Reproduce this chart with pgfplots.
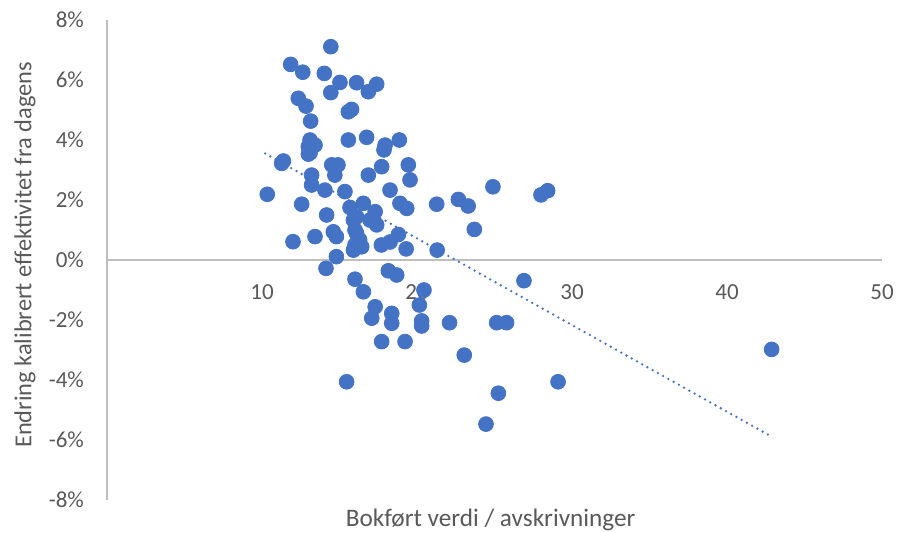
\documentclass[border=0pt]{standalone}
\usepackage{pgfplots}
\pgfplotsset{compat=1.18}
\usepackage{fontspec}
\setmainfont{Carlito}
\definecolor{dotblue}{HTML}{4472C4}
\definecolor{txtgray}{HTML}{595959}
\definecolor{axgray}{HTML}{BFBFBF}
\begin{document}
\begin{tikzpicture}
\path[use as bounding box] (-53.5pt,-16.5pt) rectangle (396.5pt,250pt);
\begin{axis}[
  scale only axis,
  width=387.5pt, height=240pt,
  xmin=0, xmax=50, ymin=-8, ymax=8,
  axis x line=middle, axis y line=left,
  axis line style={axgray, line width=0.8pt, -},
  xtick={10,20,30,40,50},
  ytick={-8,-6,-4,-2,0,2,4,6,8},
  major tick length=0pt,
  tick style={draw=none},
  /pgf/number format/assume math mode=true,
  yticklabel={\pgfmathprintnumber{\tick}\%},
  ticklabel style={font=\fontsize{11.5}{13}\selectfont, text=txtgray},
  xticklabel style={yshift=-9pt},
  yticklabel style={xshift=-8pt},
  clip=false,
]
\addplot[only marks, mark=*, mark size=3.7pt, mark options={draw=dotblue, fill=dotblue}] coordinates {
(14.44,7.11) (11.85,6.52) (12.63,6.26) (14.02,6.22) (15.03,5.92) (16.10,5.91)
(17.40,5.86) (16.86,5.61) (14.44,5.58) (12.34,5.39) (12.84,5.13) (15.78,5.02)
(15.57,4.94) (13.14,4.63) (15.57,4.00) (16.75,4.09) (13.10,4.00) (13.42,3.83)
(17.94,3.83) (18.86,4.00) (17.87,3.67) (12.99,3.78) (13.10,3.57) (11.38,3.30)
(11.27,3.22) (12.99,3.53) (13.20,2.83) (14.50,3.17) (14.90,3.17) (14.70,2.83)
(13.20,2.50) (14.06,2.33) (15.35,2.28) (16.86,2.83) (17.72,3.11) (19.44,3.17)
(19.55,2.67) (10.34,2.19) (12.56,1.86) (14.17,1.50) (18.26,2.33) (18.90,1.89)
(19.34,1.72) (21.27,1.86) (22.67,2.02) (23.30,1.80) (24.90,2.44) (28.00,2.17)
(28.43,2.31) (23.70,1.02) (21.30,0.33) (19.30,0.37)
(15.68,1.75) (16.54,1.89) (16.10,1.44) (17.30,1.61) (17.40,1.17) (16.00,1.00)
(16.20,0.72) (15.90,0.33) (16.43,0.44) (15.90,1.33) (16.97,1.33) (16.10,0.89)
(16.00,0.50) (16.30,0.67) (17.70,0.50) (18.26,0.60) (18.80,0.85) (14.60,0.94)
(14.80,0.78) (13.42,0.78) (12.00,0.61) (14.80,0.11) (14.13,-0.28) (16.00,-0.64)
(16.54,-1.06) (18.15,-0.36) (18.69,-0.50) (20.45,-1.00) (20.15,-1.50) (17.30,-1.56)
(17.08,-1.94) (18.37,-1.78) (18.37,-2.11) (20.30,-2.03) (20.30,-2.20) (17.72,-2.72)
(19.23,-2.72) (15.46,-4.06) (22.10,-2.09) (25.14,-2.09) (25.78,-2.09) (23.05,-3.17)
(26.90,-0.69) (29.10,-4.06) (25.25,-4.44) (24.45,-5.47) (42.88,-2.98)
};
\addplot[dotblue, line width=1.3pt, line cap=round, dash pattern=on 0pt off 3pt] coordinates {
(10.2,3.55) (42.85,-5.88)
};
\node[font=\fontsize{12.6}{14}\selectfont, text=txtgray] at (rel axis cs:0.495,0) [yshift=-10pt] {Bokført verdi / avskrivninger};
\end{axis}
\node[font=\fontsize{12.2}{14}\selectfont, text=txtgray, rotate=90] at (-41pt,122.5pt) {Endring kalibrert effektivitet fra dagens};
\end{tikzpicture}
\end{document}
